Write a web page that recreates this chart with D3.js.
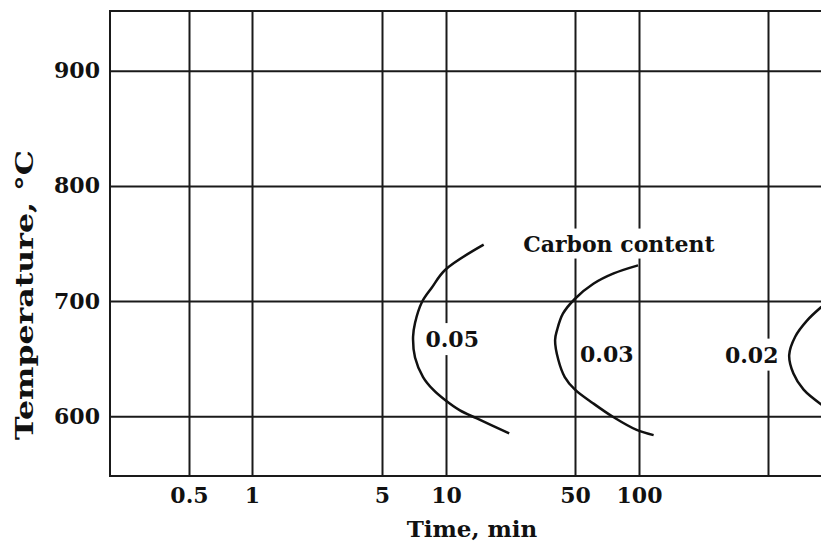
<!DOCTYPE html>
<html>
<head>
<meta charset="utf-8">
<script src="https://cdn.jsdelivr.net/npm/d3@7"></script>
<style>
    body { margin: 0; background: #fff; }
    text { font-family: "DejaVu Serif", serif; fill: #111; }
</style>
</head>
<body>
<div id="chart"></div>
<script>
// grid / tick values
let xGridValues = [0.5, 1, 5, 10, 50, 100, 500];
let xTickLabels = ["0.5", "1", "5", "10", "50", "100"];
let yTickValues = [600, 700, 800, 900];

// transformation curves [time (min), temperature (°C)]
let curve005 = [[16, 749], [9.9, 727], [8.6, 712], [7.7, 699], [7.15, 681], [7.0, 669], [7.15, 651],
    [7.8, 634], [8.7, 623], [9.9, 614], [11.9, 605], [14.7, 598], [22, 585]];
let curve003 = [[99, 731], [76, 724], [61, 715], [50, 702], [43, 689], [40, 675], [39, 666], [40.6, 649],
    [44, 634], [50, 623], [61, 611], [76, 599], [97.5, 588], [120, 583.5]];
let curve002 = [[970, 695], [810, 683], [700, 669], [650, 653], [685, 637], [777, 623], [970, 610]];

let curveLabels = ["0.05", "0.03", "0.02"];
let curveLabelPos = [[8.0, 660], [52.8, 647], [292, 646.5]];
let legendTitle = "Carbon content";
let legendPos = [26.2, 743];

let xAxisTitle = "Time, min";
let yAxisTitle = "Temperature, °C";

let svg = d3.select("#chart").append("svg")
    .attr("width", 821)
    .attr("height", 544);

let plotLeft = 110, plotTop = 11, plotBottom = 476, plotRight = 824;

// the printed time axis is not a clean log scale, so it is piecewise
let xScale = d3.scaleLog()
    .domain([0.21, 0.5, 1, 5, 10, 50, 100, 500, 1000])
    .range([110, 189, 252, 382, 446, 575, 639, 768, 824]);
let yScale = d3.scaleLinear().domain([548, 952]).range([plotBottom, plotTop]);

let g = svg.append("g");

// vertical grid + x tick labels
g.append("g")
    .attr("class", "xaxis")
    .attr("transform", "translate(0," + plotBottom + ")")
    .call(d3.axisBottom(xScale)
        .tickValues(xGridValues)
        .tickSize(-(plotBottom - plotTop))
        .tickPadding(11)
        .tickFormat(function (d) { return xTickLabels.includes(String(d)) ? String(d) : ""; }));

// horizontal grid + y tick labels
g.append("g")
    .attr("class", "yaxis")
    .attr("transform", "translate(" + plotLeft + ",0)")
    .call(d3.axisLeft(yScale)
        .tickValues(yTickValues)
        .tickSize(-(plotRight - plotLeft))
        .tickPadding(10));

g.selectAll(".domain").remove();
g.selectAll(".tick line")
    .attr("stroke", "#1a1a1a")
    .attr("stroke-width", 2);
g.selectAll(".tick text")
    .style("font-family", "DejaVu Serif")
    .style("font-size", "22px")
    .style("font-weight", "bold")
    .attr("fill", "#111");

// frame
g.append("rect")
    .attr("x", plotLeft)
    .attr("y", plotTop)
    .attr("width", plotRight - plotLeft)
    .attr("height", plotBottom - plotTop)
    .attr("fill", "none")
    .attr("stroke", "#1a1a1a")
    .attr("stroke-width", 2);

// label with white box behind it (the grid is broken under the text)
function boxedText(x, y, str, size, weight, pad) {
    let t = g.append("text")
        .attr("x", x)
        .attr("y", y)
        .style("font-size", size + "px")
        .style("font-weight", weight)
        .text(str);
    let bb = t.node().getBBox();
    g.insert("rect", function () { return t.node(); })
        .attr("x", bb.x - pad)
        .attr("y", bb.y - pad)
        .attr("width", bb.width + 2 * pad)
        .attr("height", bb.height + 2 * pad)
        .attr("fill", "#fff");
    return t;
}

let line = d3.line()
    .x(function (d) { return xScale(d[0]); })
    .y(function (d) { return yScale(d[1]); })
    .curve(d3.curveCatmullRom);

[curve005, curve003, curve002].forEach(function (c) {
    g.append("path")
        .datum(c)
        .attr("d", line)
        .attr("fill", "none")
        .attr("stroke", "#111")
        .attr("stroke-width", 2.5);
});

curveLabels.forEach(function (lbl, i) {
    boxedText(xScale(curveLabelPos[i][0]), yScale(curveLabelPos[i][1]), lbl, 22, "bold", 3);
});

boxedText(xScale(legendPos[0]), yScale(legendPos[1]), legendTitle, 22, "bold", 2);

// axis titles
svg.append("text")
    .attr("x", 472)
    .attr("y", 537)
    .attr("text-anchor", "middle")
    .style("font-size", "23px")
    .style("font-weight", "bold")
    .text(xAxisTitle);

svg.append("text")
    .attr("transform", "translate(33,295) rotate(-90)")
    .attr("text-anchor", "middle")
    .attr("textLength", 290)
    .attr("lengthAdjust", "spacingAndGlyphs")
    .style("font-size", "25px")
    .style("font-weight", "bold")
    .text(yAxisTitle);
</script>
</body>
</html>
